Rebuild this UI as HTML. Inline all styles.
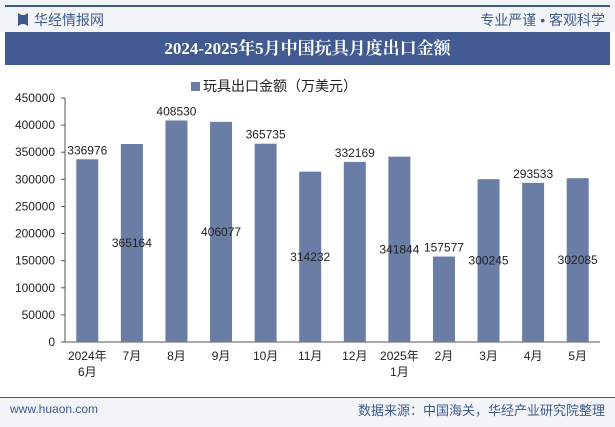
<!DOCTYPE html>
<html><head><meta charset="utf-8"><style>
body{margin:0;width:615px;height:427px;background:#fff;font-family:"Liberation Sans","Noto Sans CJK SC",sans-serif;position:relative;overflow:hidden}
.a{position:absolute}
</style></head><body>
<div class="a" style="left:0;top:0;width:615px;height:32px;background:#f3f4f8"></div>
<div class="a" style="left:5px;top:5px;width:605px;height:2px;background:#3f5a8e"></div>
<div class="a" style="left:18px;top:13px;width:10px;height:13px;background:#3f5a8e;clip-path:polygon(0 0,35% 15%,65% 15%,100% 0,100% 100%,65% 85%,35% 85%,0 100%)"></div>
<div class="a" style="left:34px;top:10px;font-size:14px;color:#3f5a8e">华经情报网</div>
<div class="a" style="right:10px;top:10px;font-size:14px;color:#3f5a8e">专业严谨 • 客观科学</div>
<div class="a" style="left:5px;top:32px;width:605px;height:33px;background:#435b93;color:#fff;font-family:'Liberation Serif','Noto Serif CJK SC',serif;font-weight:bold;font-size:17px;line-height:33px;text-align:center">2024-2025年5月中国玩具月度出口金额</div>
<div class="a" style="left:191px;top:76px;font-size:14px;color:#222"><span style="display:inline-block;width:9px;height:9px;background:#6a7ea5;margin-right:3px"></span>玩具出口金额（万美元）</div>
<svg class="a" style="left:0;top:0" width="615" height="427" id="c"></svg>
<div class="a" style="left:0;top:397px;width:615px;height:1px;background:#3f5a8e"></div>
<div class="a" style="left:0;top:398px;width:615px;height:29px;background:#f3f4f8"></div>
<div class="a" style="left:10px;top:402px;font-size:12px;color:#3f5a8e">www.huaon.com</div>
<div class="a" style="right:10px;top:400px;font-size:13px;color:#3f5a8e">数据来源：中国海关，华经产业研究院整理</div>
<script>
const categories=["2024年\n6月","7月","8月","9月","10月","11月","12月","2025年\n1月","2月","3月","4月","5月"];
const values=[336976,365164,408530,406077,365735,314232,332169,341844,157577,300245,293533,302085];
const ticks=[0,50000,100000,150000,200000,250000,300000,350000,400000,450000];
const svg=document.getElementById('c');const NS='http://www.w3.org/2000/svg';
const x0=65,x1=600,y0=342,yTop=98,max=450000;
const y=v=>y0-(v/max)*(y0-yTop);
const bw=(x1-x0)/categories.length;
const xc=i=>x0+bw*(i+0.5);
function mk(t,a,txt){const e=document.createElementNS(NS,t);for(const k in a)e.setAttribute(k,a[k]);if(txt!==undefined)e.textContent=txt;svg.appendChild(e);return e;}
ticks.forEach(t=>{const e=mk('text',{x:55,y:y(t)+4,'text-anchor':'end','font-size':12,fill:'#222'},t);


const l=mk('line',{x1:61,x2:65,y1:y(t),y2:y(t),stroke:'#555'});

});
const ax=mk('line',{x1:65,x2:65,y1:yTop,y2:y0,stroke:'#555'});


const bx=mk('line',{x1:65,x2:x1,y1:y0,y2:y0,stroke:'#555'});


values.forEach((v,i)=>{const r=mk('rect',{x:xc(i)-11,y:y(v),width:22,height:y0-y(v),fill:'#6a7ea5'});


const ly=i%2===1?(y(v)+y0)/2+4:y(v)-5;
const t=mk('text',{x:xc(i),y:ly,'text-anchor':'middle','font-size':12,fill:'#222'},v);


categories[i].split('\n').forEach((s,j)=>{const c=mk('text',{x:xc(i),y:360+j*16,'text-anchor':'middle','font-size':12,fill:'#222'},s);

});});
</script>
</body></html>
